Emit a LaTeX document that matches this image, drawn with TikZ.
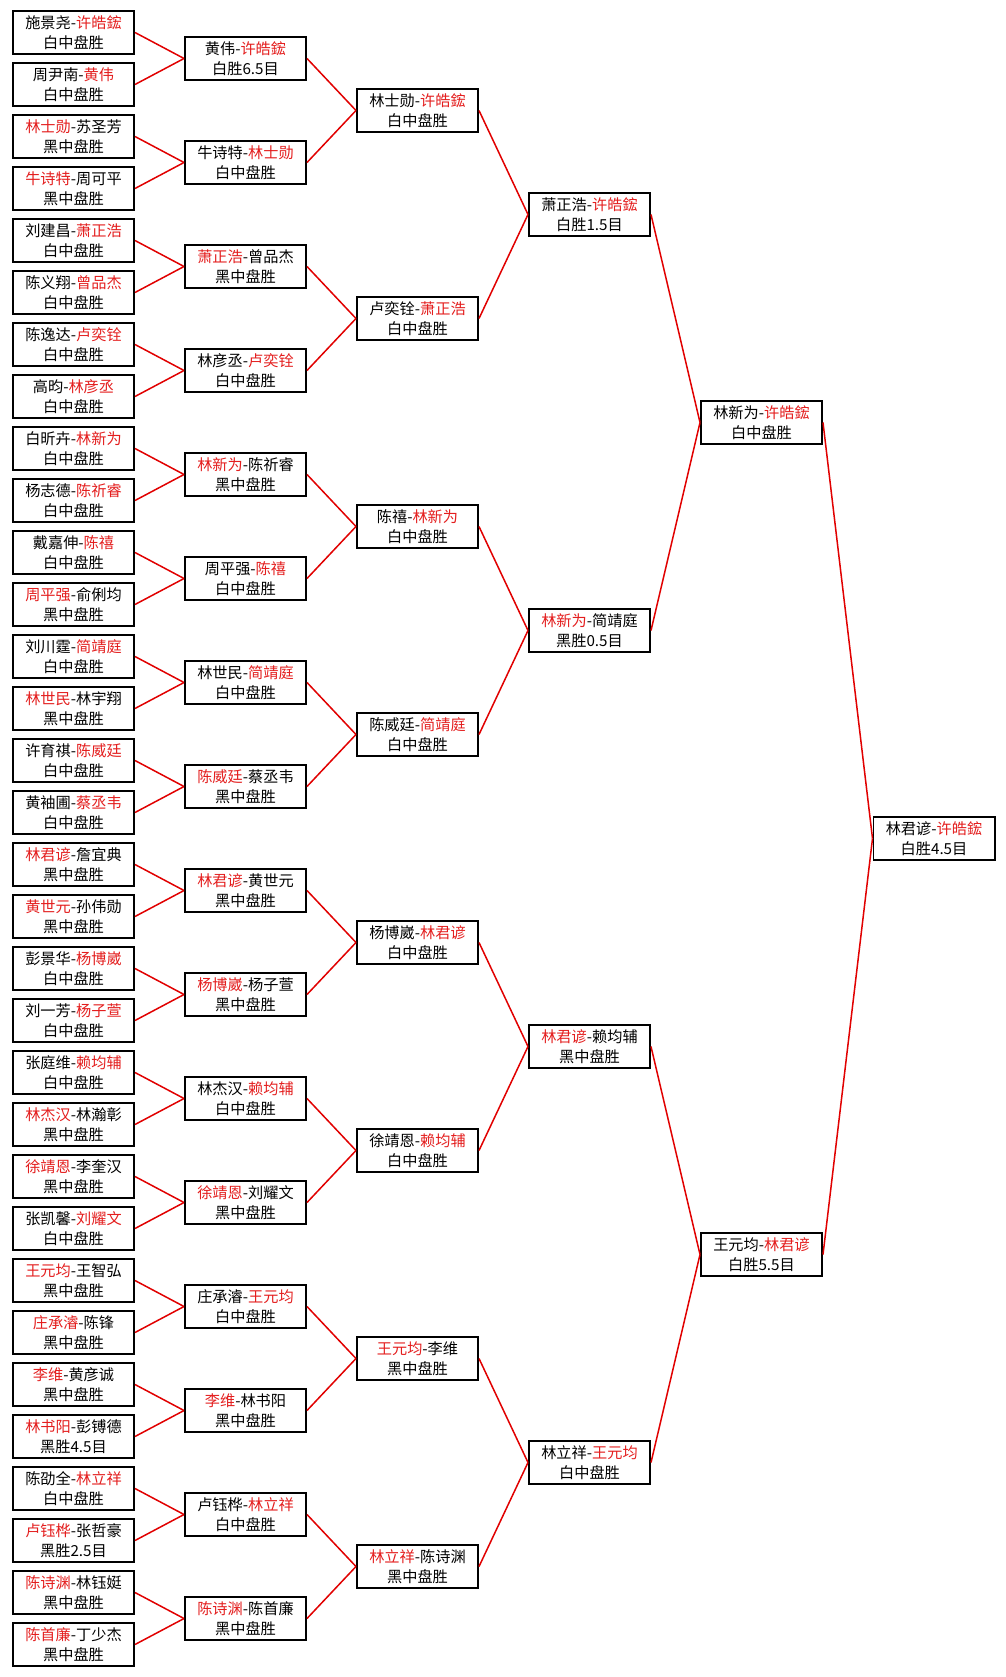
\documentclass[tikz,border=0pt]{standalone}
\usepackage{fontspec}
\setmainfont{Noto Sans CJK SC}
\definecolor{txtred}{RGB}{228,30,30}
\definecolor{linered}{RGB}{225,0,0}
\newcommand\R[1]{\textcolor{txtred}{#1}}
\tikzset{
  box/.style={draw=black, line width=1.6pt, fill=white, minimum width=121.4pt, minimum height=43.4pt,
    inner sep=0pt, align=center, font=\fontsize{15.2pt}{19.5pt}\selectfont},
  link/.style={draw=linered, line width=1.5pt}
}
\begin{document}
\begin{tikzpicture}[x=1pt,y=-1pt]
\fill[white] (0,0) rectangle (1005,1677);
\useasboundingbox (0,0) rectangle (1005,1677);
% round 1
\foreach \t [count=\i from 0] in {
{施景尧-\R{许皓鋐}\\白中盘胜},
{周尹南-\R{黄伟}\\白中盘胜},
{\R{林士勋}-苏圣芳\\黑中盘胜},
{\R{牛诗特}-周可平\\黑中盘胜},
{刘建昌-\R{萧正浩}\\白中盘胜},
{陈义翔-\R{曾品杰}\\白中盘胜},
{陈逸达-\R{卢奕铨}\\白中盘胜},
{高昀-\R{林彦丞}\\白中盘胜},
{白昕卉-\R{林新为}\\白中盘胜},
{杨志德-\R{陈祈睿}\\白中盘胜},
{戴嘉伸-\R{陈禧}\\白中盘胜},
{\R{周平强}-俞俐均\\黑中盘胜},
{刘川霆-\R{简靖庭}\\白中盘胜},
{\R{林世民}-林宇翔\\黑中盘胜},
{许育祺-\R{陈威廷}\\白中盘胜},
{黄袖圃-\R{蔡丞韦}\\白中盘胜},
{\R{林君谚}-詹宜典\\黑中盘胜},
{\R{黄世元}-孙伟勋\\黑中盘胜},
{彭景华-\R{杨博崴}\\白中盘胜},
{刘一芳-\R{杨子萱}\\白中盘胜},
{张庭维-\R{赖均辅}\\白中盘胜},
{\R{林杰汉}-林瀚彰\\黑中盘胜},
{\R{徐靖恩}-李奎汉\\黑中盘胜},
{张凯馨-\R{刘耀文}\\白中盘胜},
{\R{王元均}-王智弘\\黑中盘胜},
{\R{庄承濬}-陈锋\\黑中盘胜},
{\R{李维}-黄彦诚\\黑中盘胜},
{\R{林书阳}-彭镈德\\黑胜4.5目},
{陈劭全-\R{林立祥}\\白中盘胜},
{\R{卢钰桦}-张哲豪\\黑胜2.5目},
{\R{陈诗渊}-林钰娗\\黑中盘胜},
{\R{陈首廉}-丁少杰\\黑中盘胜}}
{\node[box] (a\i) at (73.5,{32.5+52*\i}) {\t};}
% round 2
\foreach \t [count=\i from 0] in {
{黄伟-\R{许皓鋐}\\白胜6.5目},
{牛诗特-\R{林士勋}\\白中盘胜},
{\R{萧正浩}-曾品杰\\黑中盘胜},
{林彦丞-\R{卢奕铨}\\白中盘胜},
{\R{林新为}-陈祈睿\\黑中盘胜},
{周平强-\R{陈禧}\\白中盘胜},
{林世民-\R{简靖庭}\\白中盘胜},
{\R{陈威廷}-蔡丞韦\\黑中盘胜},
{\R{林君谚}-黄世元\\黑中盘胜},
{\R{杨博崴}-杨子萱\\黑中盘胜},
{林杰汉-\R{赖均辅}\\白中盘胜},
{\R{徐靖恩}-刘耀文\\黑中盘胜},
{庄承濬-\R{王元均}\\白中盘胜},
{\R{李维}-林书阳\\黑中盘胜},
{卢钰桦-\R{林立祥}\\白中盘胜},
{\R{陈诗渊}-陈首廉\\黑中盘胜}}
{\node[box] (b\i) at (245.5,{58.5+104*\i}) {\t};}
% round 3
\foreach \t [count=\i from 0] in {
{林士勋-\R{许皓鋐}\\白中盘胜},
{卢奕铨-\R{萧正浩}\\白中盘胜},
{陈禧-\R{林新为}\\白中盘胜},
{陈威廷-\R{简靖庭}\\白中盘胜},
{杨博崴-\R{林君谚}\\白中盘胜},
{徐靖恩-\R{赖均辅}\\白中盘胜},
{\R{王元均}-李维\\黑中盘胜},
{\R{林立祥}-陈诗渊\\黑中盘胜}}
{\node[box] (c\i) at (417.5,{110.5+208*\i}) {\t};}
% round 4
\foreach \t [count=\i from 0] in {
{萧正浩-\R{许皓鋐}\\白胜1.5目},
{\R{林新为}-简靖庭\\黑胜0.5目},
{\R{林君谚}-赖均辅\\黑中盘胜},
{林立祥-\R{王元均}\\白中盘胜}}
{\node[box] (d\i) at (589.5,{214.5+416*\i}) {\t};}
% round 5
\node[box] (e0) at (761.5,422.5) {林新为-\R{许皓鋐}\\白中盘胜};
\node[box] (e1) at (761.5,1254.5) {王元均-\R{林君谚}\\白胜5.5目};
% final
\node[box] (f0) at (934,838.5) {林君谚-\R{许皓鋐}\\白胜4.5目};
% connectors
\foreach \i in {0,...,15}{
  \pgfmathtruncatemacro\ja{2*\i}\pgfmathtruncatemacro\jb{2*\i+1}
  \draw[link] (a\ja.east) -- (b\i.west);
  \draw[link] (a\jb.east) -- (b\i.west);}
\foreach \i in {0,...,7}{
  \pgfmathtruncatemacro\ja{2*\i}\pgfmathtruncatemacro\jb{2*\i+1}
  \draw[link] (b\ja.east) -- (c\i.west);
  \draw[link] (b\jb.east) -- (c\i.west);}
\foreach \i in {0,...,3}{
  \pgfmathtruncatemacro\ja{2*\i}\pgfmathtruncatemacro\jb{2*\i+1}
  \draw[link] (c\ja.east) -- (d\i.west);
  \draw[link] (c\jb.east) -- (d\i.west);}
\foreach \i in {0,1}{
  \pgfmathtruncatemacro\ja{2*\i}\pgfmathtruncatemacro\jb{2*\i+1}
  \draw[link] (d\ja.east) -- (e\i.west);
  \draw[link] (d\jb.east) -- (e\i.west);}
\draw[link] (e0.east) -- (f0.west);
\draw[link] (e1.east) -- (f0.west);
\end{tikzpicture}
\end{document}
